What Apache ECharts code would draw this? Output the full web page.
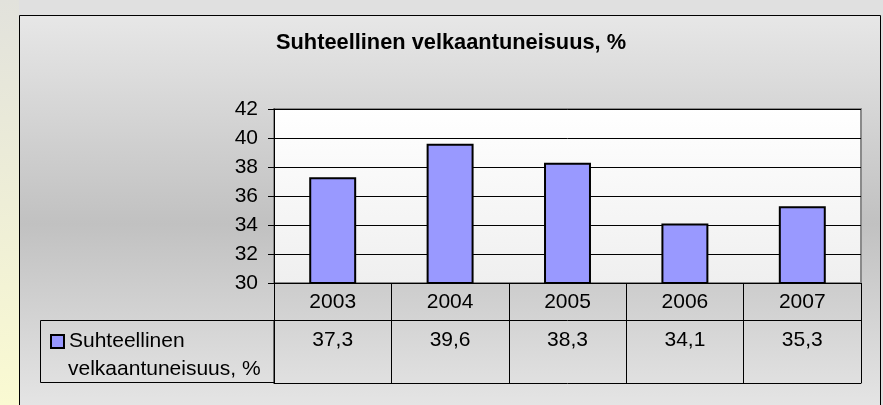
<!DOCTYPE html>
<html>
<head>
<meta charset="utf-8">
<script src="https://cdn.jsdelivr.net/npm/echarts@6/dist/echarts.min.js"></script>
<style>
  html, body { margin: 0; padding: 0; background: #e0e0e0; }
  #chart { width: 883px; height: 405px; }
</style>
</head>
<body>
<div id="chart"></div>
<script>
const years = ['2003', '2004', '2005', '2006', '2007'];
const values = [37.3, 39.6, 38.3, 34.1, 35.3];
const seriesName = 'Suhteellinen velkaantuneisuus, %';
const legendLines = ['Suhteellinen', 'velkaantuneisuus, %'];
const yTicks = { min: 30, max: 42, step: 2 };

const FONT = 'Liberation Sans, Arial, sans-serif';
const valueLabels = values.map(v => v.toFixed(1).replace('.', ','));

const chart = echarts.init(document.getElementById('chart'), null, { renderer: 'canvas' });

// the legend label wraps on two lines, the box sits next to the first one
function legendLine(i, top, showIcon) {
  return {
    left: 45,
    top: top,
    itemWidth: 13,
    itemHeight: 13,
    icon: 'rect',
    selectedMode: false,
    itemStyle: showIcon
      ? { borderColor: '#000', borderWidth: 2 }
      : { color: 'rgba(0,0,0,0)', borderColor: 'rgba(0,0,0,0)', borderWidth: 0 },
    formatter: () => legendLines[i],
    textStyle: { fontFamily: FONT, fontSize: 21, color: '#000' },
    data: [seriesName]
  };
}

const option = {
  backgroundColor: '#e0e0e0',
  animation: false,
  title: {
    text: seriesName,
    left: 276,
    top: 32,
    padding: 0,
    textStyle: { fontFamily: FONT, fontSize: 21.8, fontWeight: 'bold', color: '#000' }
  },
  graphic: [
    // yellowish strip on the left
    {
      type: 'rect', z: -10, silent: true,
      shape: { x: 0, y: 0, width: 19, height: 405 },
      style: {
        fill: new echarts.graphic.LinearGradient(0, 0, 0, 1, [
          { offset: 0, color: '#e2e2dc' },
          { offset: 1, color: '#fafad2' }
        ])
      }
    },
    // chart frame
    {
      type: 'rect', z: -9, silent: true,
      shape: { x: 19.5, y: 15.5, width: 861, height: 400 },
      style: {
        stroke: '#000', lineWidth: 1,
        fill: new echarts.graphic.LinearGradient(0, 0, 0, 1, [
          { offset: 0, color: '#e7e7e7' },
          { offset: 0.52, color: '#c1c1c1' },
          { offset: 0.97, color: '#e4e4e4' },
          { offset: 1, color: '#e4e4e4' }
        ])
      }
    },
    // legend cell of the data table
    {
      type: 'rect', z: 5, silent: true,
      shape: { x: 40.5, y: 320.5, width: 233.5, height: 62 },
      style: { stroke: '#000', lineWidth: 1, fill: 'none' }
    }
  ],
  legend: [
    legendLine(0, 326, true),
    legendLine(1, 354, false)
  ],
  grid: {
    left: 274, top: 109, width: 587, height: 174,
    show: true,
    backgroundColor: new echarts.graphic.LinearGradient(0, 0, 0, 1, [
      { offset: 0, color: '#ffffff' },
      { offset: 1, color: '#efefef' }
    ]),
    borderColor: '#8a8a8a',
    borderWidth: 2
  },
  xAxis: [
    {
      type: 'category',
      data: years,
      position: 'bottom',
      axisLine: { lineStyle: { color: '#000', width: 1 } },
      axisTick: { show: true, length: 100, interval: 0, lineStyle: { color: '#000', width: 1 } },
      axisLabel: { margin: 9, fontFamily: FONT, fontSize: 21, color: '#000' },
      splitLine: { show: false }
    },
    {
      type: 'category',
      data: valueLabels,
      position: 'bottom',
      offset: 37,
      axisLine: { lineStyle: { color: '#000', width: 1 } },
      axisTick: { show: false },
      axisLabel: { margin: 10, fontFamily: FONT, fontSize: 21, color: '#000' },
      splitLine: { show: false }
    },
    {
      type: 'category',
      data: years,
      position: 'bottom',
      offset: 100,
      axisLine: { lineStyle: { color: '#000', width: 1 } },
      axisTick: { show: false },
      axisLabel: { show: false },
      splitLine: { show: false }
    }
  ],
  yAxis: {
    type: 'value',
    min: yTicks.min,
    max: yTicks.max,
    interval: yTicks.step,
    axisLine: { show: true, lineStyle: { color: '#000', width: 1 } },
    axisTick: { show: true, length: 6, lineStyle: { color: '#000' } },
    axisLabel: { margin: 16, fontFamily: FONT, fontSize: 21, color: '#000' },
    splitLine: { lineStyle: { color: '#000', width: 1 } }
  },
  series: [{
    name: seriesName,
    type: 'bar',
    xAxisIndex: 0,
    barWidth: '40%',
    data: values,
    itemStyle: { color: '#9999ff', borderColor: '#000', borderWidth: 2 }
  }]
};

chart.setOption(option);
</script>
</body>
</html>
